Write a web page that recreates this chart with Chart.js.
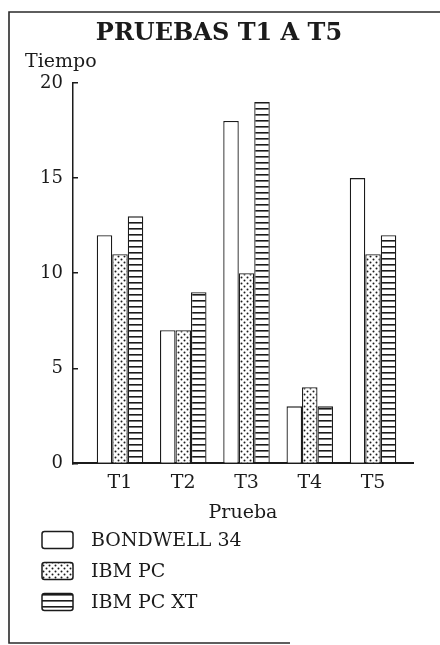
<!DOCTYPE html>
<html>
<head>
<meta charset="utf-8">
<script src="https://cdn.jsdelivr.net/npm/chart.js@4/dist/chart.umd.min.js"></script>
<style>
  html, body { margin: 0; padding: 0; background: #fff; }
  canvas { display: block; }
</style>
</head>
<body>
<canvas id="chart" width="440" height="645"></canvas>
<script>
// Test names along the horizontal axis
const categories = ['T1', 'T2', 'T3', 'T4', 'T5'];
// Machines compared
const seriesNames = ['BONDWELL 34', 'IBM PC', 'IBM PC XT'];
// Time taken by each machine on each test
const bondwell34 = [12, 7, 18, 3, 15];
const ibmPc = [11, 7, 10, 4, 11];
const ibmPcXt = [13, 9, 19, 3, 12];
// Vertical axis ticks
const yTicks = [0, 5, 10, 15, 20];

const INK = '#1b1b1b';
const FONT = "'DejaVu Serif', serif";

// Fill patterns: plain, dotted, horizontal stripes
function dotPattern() {
  const c = document.createElement('canvas');
  c.width = 6; c.height = 6;
  const g = c.getContext('2d');
  g.fillStyle = '#fff'; g.fillRect(0, 0, 6, 6);
  g.fillStyle = INK;
  g.beginPath(); g.arc(1.5, 1.5, 1, 0, Math.PI * 2); g.fill();
  g.beginPath(); g.arc(4.5, 4.5, 1, 0, Math.PI * 2); g.fill();
  return g.createPattern(c, 'repeat');
}
function stripePattern() {
  const c = document.createElement('canvas');
  c.width = 6; c.height = 6;
  const g = c.getContext('2d');
  g.fillStyle = '#fff'; g.fillRect(0, 0, 6, 6);
  g.fillStyle = INK;
  g.fillRect(0, 0, 6, 1.6);
  return g.createPattern(c, 'repeat');
}

const fills = ['#ffffff', dotPattern(), stripePattern()];
const seriesValues = [bondwell34, ibmPc, ibmPcXt];

const datasets = seriesNames.map((name, s) => ({
  label: name,
  data: seriesValues[s].map((v, i) => ({ x: i + 1, y: v })),
  backgroundColor: fills[s],
  borderColor: INK,
  borderWidth: 1.3,
  barPercentage: 1,
  categoryPercentage: 0.735
}));

// Page frame around the figure
const framePlugin = {
  id: 'frame',
  beforeDraw(chart) {
    const ctx = chart.ctx;
    ctx.save();
    ctx.fillStyle = '#fff';
    ctx.fillRect(0, 0, chart.width, chart.height);
    ctx.strokeStyle = '#2a2a2a';
    ctx.lineWidth = 1.6;
    ctx.beginPath();
    ctx.moveTo(chart.width, 12);
    ctx.lineTo(9, 12);
    ctx.lineTo(9, 643);
    ctx.lineTo(290, 643);
    ctx.stroke();
    ctx.restore();
  }
};

// Vertical key listing each machine with its fill
const keyPlugin = {
  id: 'key',
  afterDraw(chart) {
    const ctx = chart.ctx;
    const top = chart.scales.x.bottom + 16;
    ctx.save();
    chart.data.datasets.forEach((ds, i) => {
      const cy = top + i * 31;
      ctx.beginPath();
      ctx.roundRect(42, cy - 8.5, 31, 17, 2.5);
      ctx.fillStyle = ds.backgroundColor;
      ctx.fill();
      ctx.lineWidth = 1.5;
      ctx.strokeStyle = INK;
      ctx.stroke();
      ctx.fillStyle = INK;
      ctx.font = '19px ' + FONT;
      ctx.textBaseline = 'middle';
      ctx.textAlign = 'left';
      ctx.fillText(ds.label, 91, cy + 1);
    });
    ctx.restore();
  }
};

new Chart(document.getElementById('chart'), {
  type: 'bar',
  data: { datasets },
  plugins: [framePlugin, keyPlugin],
  options: {
    responsive: false,
    animation: false,
    events: [],
    layout: { padding: { top: 10, left: 25, right: 27, bottom: 121 } },
    plugins: {
      legend: { display: false },
      tooltip: { enabled: false },
      title: {
        display: true,
        text: 'PRUEBAS T1 A T5',
        color: INK,
        font: { family: FONT, size: 24, weight: 'bold' },
        padding: { top: 9.6, bottom: 2.7 }
      },
      subtitle: {
        display: true,
        text: 'Tiempo',
        align: 'start',
        color: INK,
        font: { family: FONT, size: 19 },
        padding: { top: 0, bottom: 9.1 }
      }
    },
    scales: {
      x: {
        type: 'linear',
        min: 0.257,
        max: 5.632,
        offset: false,
        grid: { display: false, drawTicks: false, offset: false },
        border: { display: true, color: INK, width: 2 },
        afterBuildTicks(scale) {
          scale.ticks = categories.map((_, i) => ({ value: i + 1 }));
        },
        ticks: {
          color: INK,
          font: { family: FONT, size: 19 },
          padding: 8,
          maxRotation: 0,
          callback: (v) => categories[v - 1]
        },
        title: {
          display: true,
          text: 'Prueba',
          color: INK,
          font: { family: FONT, size: 19 },
          padding: { top: -1, bottom: 0 }
        }
      },
      y: {
        min: yTicks[0],
        max: yTicks[yTicks.length - 1],
        afterFit(scale) { scale.width = 48; },
        afterBuildTicks(scale) {
          scale.ticks = yTicks.map(v => ({ value: v }));
        },
        grid: {
          drawOnChartArea: false,
          drawTicks: true,
          tickLength: -5,
          color: INK,
          lineWidth: 1.5
        },
        border: { display: true, color: INK, width: 1.5 },
        ticks: {
          color: INK,
          font: { family: FONT, size: 18 },
          padding: 15
        }
      }
    }
  }
});
</script>
</body>
</html>
